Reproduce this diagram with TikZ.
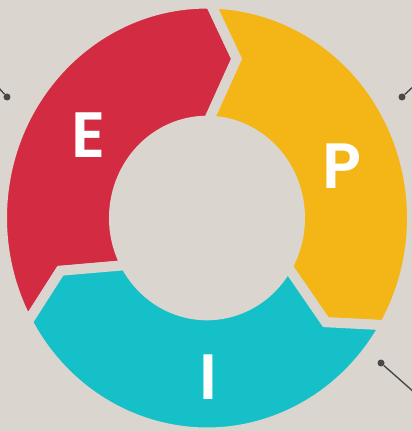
\documentclass[tikz,border=0pt]{standalone}
\usepackage{fontspec}
\newfontfamily\epifont{Poppins SemiBold}
\usetikzlibrary{calc}
\definecolor{backgr}{RGB}{219,213,207}
\definecolor{redE}{RGB}{211,44,66}
\definecolor{yellowP}{RGB}{244,182,22}
\definecolor{cyanI}{RGB}{22,192,200}
\definecolor{pin}{RGB}{72,72,72}
\begin{document}
\begin{tikzpicture}
		[x=1pt, y=1pt,
		part/.style={draw=backgr, line width=10pt, line join=miter},
		letter/.style={text=white, font=\epifont\fontsize{64}{64}\selectfont, inner sep=0pt},
		pinline/.style={draw=pin, line width=1.4pt},
		pindot/.style={fill=pin, circle, inner sep=0pt, minimum size=7pt},
		]
		\fill[backgr] (-207,-213) rectangle (205,218);
		\useasboundingbox (-207,-213) rectangle (205,218);
		% ring parts: front angle / rear angle / colour
		\begin{scope}[yscale=1.046]
		\foreach \a/\b/\col in {89/209/redE, -30/89/yellowP, -151/-30/cyanI}{
			\path[part, fill=\col] (\a:205) arc[start angle=\a, end angle=\b, radius=205]
				-- ({\b-10}:155) -- (\b:93) arc[start angle=\b, end angle=\a, radius=93]
				-- ({\a-10}:155) -- cycle;
		}
		\end{scope}
		\node[letter] (E) at (-118,83) {E};
		\node[letter] (P) at (135,52) {P};
		\node[letter] (I) at (1,-159) {I};
		% pins
		\node[pindot] (dotA) at (-200,121) {};
		\node[pindot] (dotB) at (195,121) {};
		\node[pindot] (dotC) at (174,-145) {};
		\coordinate (endA) at (-209,131);
		\coordinate (endB) at (208,133);
		\coordinate (endC) at (208,-175);
		\draw[pinline] (endA) -- (dotA);
		\draw[pinline] (endB) -- (dotB);
		\draw[pinline] (dotC) -- (endC);
	\end{tikzpicture}
\end{document}
